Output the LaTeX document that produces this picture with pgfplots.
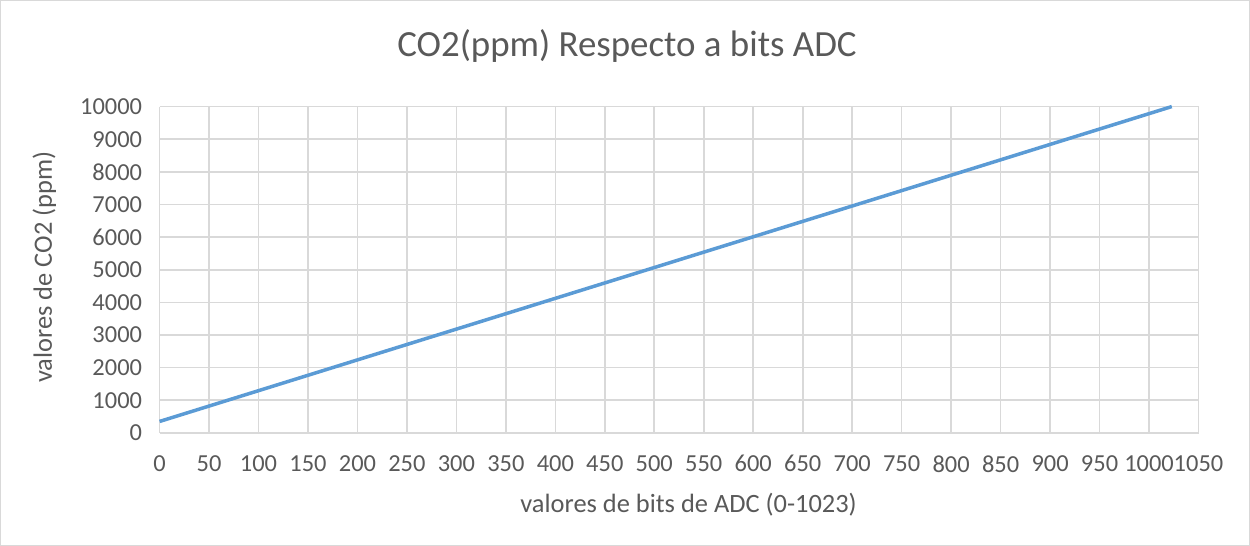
\documentclass[border=0pt]{standalone}
\usepackage{fontspec}
\setmainfont{Carlito}
\usepackage{pgfplots}
\pgfplotsset{compat=1.18}
\definecolor{txt}{HTML}{595959}
\definecolor{gridc}{HTML}{D9D9D9}
\definecolor{serie}{HTML}{5B9BD5}

\begin{document}
\begin{tikzpicture}[x=1bp,y=1bp]
\begin{axis}[
    scale only axis,
    width=1038bp, height=326bp,
    xmin=0, xmax=1050, ymin=0, ymax=10000,
    xtick distance=50, ytick distance=1000,
    grid=major,
    major grid style={draw=gridc, line width=1.6bp},
    axis line style={draw=gridc, line width=1.6bp},
    axis x line*=bottom, axis y line*=left,
    x axis line style={-}, y axis line style={-},
    tick style={draw=none},
    clip=false,
    scaled ticks=false,
    /pgf/number format/assume math mode=true,
    /pgf/number format/.cd, 1000 sep={}, fixed, /pgfplots/.cd,
    ticklabel style={font=\fontsize{24.5}{28}\selectfont, text=txt},
    xticklabel style={yshift=-19bp},
    yticklabel style={xshift=-14bp},
    xlabel={valores de bits de ADC (0-1023)},
    ylabel={valores de CO2 (ppm)},
    label style={font=\fontsize{26.5}{30}\selectfont, text=txt},
    xlabel style={at={(axis description cs:0.5092,-0.2208)}, anchor=center},
    ylabel style={at={(axis description cs:-0.1108,0.5076)}, anchor=center},
    title={CO2(ppm) Respecto a bits ADC},
    title style={font=\fontsize{37}{42}\selectfont, text=txt, at={(axis description cs:0.4499,1.1687)}, anchor=center},
]
\draw[draw=gridc, line width=1bp] (axis description cs:-0.1531,-0.3451) rectangle (axis description cs:1.0491,1.3251);
\addplot[serie, line width=3.5bp, no marks] coordinates {
(0,350) (100,1293) (200,2237) (300,3180) (400,4123) (500,5067)
(600,6010) (700,6953) (800,7896) (900,8840) (1000,9783) (1023,10000)
};
\end{axis}
\end{tikzpicture}
\end{document}
